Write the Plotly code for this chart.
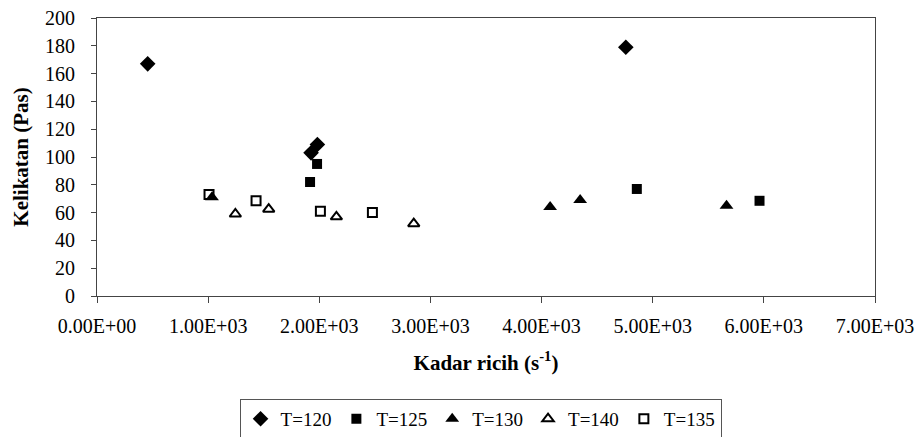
import plotly.graph_objects as go

# Data
x_t120 = [456, 1926, 1983, 4758]
y_t120 = [167, 103, 109, 179]

x_t125 = [1917, 1980, 4857, 5961]
y_t125 = [82, 95, 77, 68.5]

x_t130 = [1035, 4077, 4347, 5664]
y_t130 = [71, 64, 69, 65]

x_t140 = [1245, 1545, 2154, 2850]
y_t140 = [59, 62.5, 57, 52]

x_t135 = [1008, 1431, 2010, 2478]
y_t135 = [73, 68.5, 61, 60]

x_tickvals = [0, 1000, 2000, 3000, 4000, 5000, 6000, 7000]
x_ticktext = ["0.00E+00", "1.00E+03", "2.00E+03", "3.00E+03",
              "4.00E+03", "5.00E+03", "6.00E+03", "7.00E+03"]
y_tickvals = [0, 20, 40, 60, 80, 100, 120, 140, 160, 180, 200]

FONT = "Liberation Serif"

fig = go.Figure()
fig.add_trace(go.Scatter(x=x_t120, y=y_t120, mode="markers", name="T=120",
                         marker=dict(symbol="diamond", size=12, color="black")))
fig.add_trace(go.Scatter(x=x_t125, y=y_t125, mode="markers", name="T=125",
                         marker=dict(symbol="square", size=10, color="black")))
fig.add_trace(go.Scatter(x=x_t130, y=y_t130, mode="markers", name="T=130",
                         marker=dict(symbol="triangle-up", size=12, color="black")))
fig.add_trace(go.Scatter(x=x_t140, y=y_t140, mode="markers", name="T=140",
                         marker=dict(symbol="triangle-up-open", size=10, color="black",
                                     line=dict(width=2, color="black"))))
fig.add_trace(go.Scatter(x=x_t135, y=y_t135, mode="markers", name="T=135",
                         marker=dict(symbol="square-open", size=9, color="black",
                                     line=dict(width=2, color="black"))))

fig.update_layout(
    width=917, height=437,
    margin=dict(l=97, r=42, t=18, b=141, autoexpand=False),
    paper_bgcolor="white", plot_bgcolor="white",
    font=dict(family=FONT, size=20, color="black"),
    showlegend=True,
    legend=dict(orientation="h", x=0.493, xanchor="center", y=-0.37, yanchor="top",
                bordercolor="#555555", borderwidth=1, bgcolor="white",
                font=dict(family=FONT, size=19, color="black"),
                itemwidth=30, tracegroupgap=0),
    xaxis=dict(range=[0, 7000], tickvals=x_tickvals, ticktext=x_ticktext,
               automargin=False,
               showgrid=False, zeroline=False, showline=True, linecolor="#444444",
               linewidth=1, mirror=True, ticks="outside", ticklen=6,
               tickcolor="#444444", tickfont=dict(family=FONT, size=20),
               ticklabelstandoff=6,
               title=dict(text="<b>Kadar ricih (s<sup>-1</sup>)</b>",
                          font=dict(family=FONT, size=21), standoff=19)),
    yaxis=dict(range=[0, 200], tickvals=y_tickvals,
               automargin=False,
               showgrid=False, zeroline=False, showline=True, linecolor="#444444",
               linewidth=1, mirror=True, ticks="outside", ticklen=5,
               tickcolor="#444444", tickfont=dict(family=FONT, size=20),
               ticklabelstandoff=12,
               title=dict(text="<b>Kelikatan (Pas)</b>",
                          font=dict(family=FONT, size=21), standoff=10)),
)

fig.write_html("out.html", config={"displayModeBar": False},
               post_script="document.body.style.margin='0px';")
